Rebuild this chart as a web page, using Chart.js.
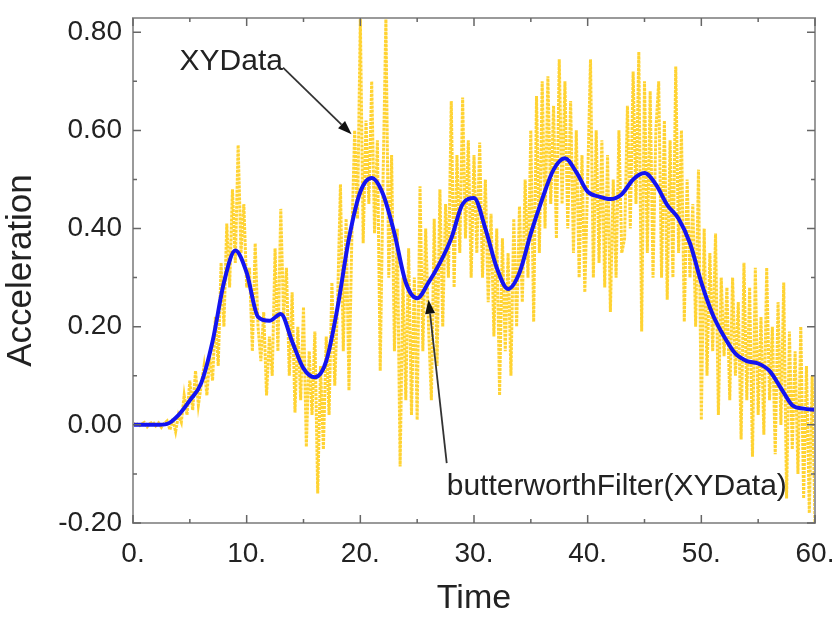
<!DOCTYPE html>
<html><head><meta charset="utf-8">
<script src="https://cdn.jsdelivr.net/npm/chart.js@4/dist/chart.umd.min.js"></script>
<style>html,body{margin:0;padding:0;background:#fff}</style>
</head><body>
<canvas id="c" width="835" height="619"></canvas>
<script>
// ---- data ----
const filterTime = [0,1,2,3,4,5,6,7,8,9,10,11,12,13,14,15,16,17,18,19,20,21,22,23,24,25,26,27,28,29,30,31,32,33,34,35,36,37,38,39,40,41,42,43,44,45,46,47,48,49,50,51,52,53,54,55,56,57,58,59,60];
const filterValues = [0,0,0,0.002,0.02,0.05,0.085,0.17,0.29,0.355,0.31,0.22,0.212,0.226,0.17,0.115,0.097,0.13,0.24,0.38,0.475,0.503,0.47,0.39,0.29,0.258,0.29,0.33,0.38,0.45,0.462,0.40,0.32,0.277,0.31,0.39,0.46,0.52,0.543,0.515,0.475,0.465,0.46,0.47,0.50,0.513,0.49,0.448,0.42,0.37,0.29,0.225,0.18,0.145,0.13,0.125,0.11,0.075,0.04,0.033,0.031];
const rawStep = 0.25;
const rawValues = [
0,0.004,-0.003,0.002,0.005,-0.004,0.003,0.006,-0.002,0.004,-0.005,0.003,0.008,
-0.01,0.012,-0.014,0.02,
0.005,0.06,0.02,0.09,
0.03,0.11,0.04,0.08,
0.12,0.06,0.14,0.09,
0.22,0.12,0.33,0.2,
0.41,0.28,0.48,0.33,
0.57,0.35,0.45,0.28,
0.32,0.15,0.37,0.2,
0.13,0.23,0.06,0.18,
0.1,0.36,0.15,0.44,
0.22,0.32,0.1,0.27,
0.025,0.2,0.05,0.24,
-0.045,0.15,0.02,0.19,
-0.14,0.12,-0.05,0.18,
0.02,0.29,0.08,0.25,
0.49,0.15,0.42,0.07,
0.38,0.6,0.42,0.83,
0.37,0.62,0.45,0.70,
0.39,0.58,0.11,0.5,
0.83,0.3,0.55,0.15,
0.4,-0.085,0.3,0.05,
0.36,0.02,0.3,0.01,
0.486,0.15,0.4,0.2,
0.05,0.42,0.12,0.48,
0.2,0.45,0.3,0.66,
0.28,0.55,0.35,0.667,
0.38,0.58,0.3,0.55,
0.35,0.575,0.3,0.5,
0.25,0.43,0.18,0.4,
0.06,0.38,0.15,0.35,
0.1,0.42,0.2,0.445,
0.25,0.5,0.3,0.6,
0.21,0.67,0.35,0.70,
0.4,0.71,0.45,0.65,
0.38,0.745,0.45,0.7,
0.4,0.66,0.35,0.6,
0.3,0.55,0.27,0.5,
0.745,0.3,0.6,0.33,
0.58,0.28,0.55,0.23,
0.5,0.3,0.6,0.35,
0.38,0.65,0.4,0.72,
0.45,0.76,0.19,0.7,
0.35,0.68,0.3,0.6,
0.7,0.3,0.62,0.255,
0.58,0.3,0.73,0.35,
0.6,0.21,0.5,0.3,
0.45,0.2,0.52,0.01,
0.4,0.1,0.35,0.15,
0.39,0.02,0.3,0.14,
0.28,0.05,0.3,0.1,
0.25,-0.03,0.33,0.05,
0.28,-0.065,0.32,0.02,
0.22,-0.02,0.32,0.05,
0.2,-0.06,0.25,0.0,
0.29,-0.15,0.19,-0.05,
0.15,-0.1,0.2,-0.15,
0.12,-0.18,0.1,-0.2
];
const xTickValues = [0,10,20,30,40,50,60];
const yTickValues = [-0.2,0,0.2,0.4,0.6,0.8];
const xMinorValues = [5,15,25,35,45,55];
const yMinorValues = [-0.1,0.1,0.3,0.5,0.7];
const xTitle = 'Time';
const yTitle = 'Acceleration';
const annotations = [
  {text:'XYData', tx:4.1, ty:0.724, from:[13.2,0.728], to:[19.23,0.592]},
  {text:'butterworthFilter(XYData)', tx:27.6, ty:-0.143, from:[27.6,-0.078], to:[26.0,0.255]}
];

// ---- chart ----
const FONT = "'Liberation Sans', Arial, Helvetica, sans-serif";
Chart.defaults.font.family = FONT;
const rawPoints = rawValues.map((v,i)=>({x:i*rawStep, y:v}));
const filterPoints = filterTime.map((t,i)=>({x:t, y:filterValues[i]}));

const framePlugin = {
  id:'frame',
  afterDatasetsDraw(chart){
    const ctx = chart.ctx, a = chart.chartArea;
    const xs = chart.scales.x, ys = chart.scales.y;
    ctx.save();
    ctx.strokeStyle = '#9a9a9a';
    ctx.lineWidth = 2;
    ctx.strokeRect(a.left, a.top, a.right-a.left, a.bottom-a.top);
    ctx.strokeStyle = '#666';
    ctx.lineWidth = 1.5;
    ctx.beginPath();
    const tx = (v,len)=>{const p=xs.getPixelForValue(v);
      ctx.moveTo(p,a.bottom);ctx.lineTo(p,a.bottom-len);
      ctx.moveTo(p,a.top);ctx.lineTo(p,a.top+len);};
    const ty = (v,len)=>{const p=ys.getPixelForValue(v);
      ctx.moveTo(a.left,p);ctx.lineTo(a.left+len,p);
      ctx.moveTo(a.right,p);ctx.lineTo(a.right-len,p);};
    xTickValues.forEach(v=>tx(v,8)); xMinorValues.forEach(v=>tx(v,4));
    yTickValues.forEach(v=>ty(v,8)); yMinorValues.forEach(v=>ty(v,4));
    ctx.stroke();
    // annotations
    ctx.font = "30px " + FONT;
    ctx.fillStyle = '#222';
    ctx.textBaseline = 'alphabetic';
    annotations.forEach(an=>{
      ctx.fillText(an.text, xs.getPixelForValue(an.tx), ys.getPixelForValue(an.ty));
      const x1=xs.getPixelForValue(an.from[0]), y1=ys.getPixelForValue(an.from[1]);
      const x2=xs.getPixelForValue(an.to[0]), y2=ys.getPixelForValue(an.to[1]);
      const ang=Math.atan2(y2-y1,x2-x1), L=14, W=5;
      ctx.strokeStyle='#333'; ctx.lineWidth=1.8;
      ctx.beginPath(); ctx.moveTo(x1,y1);
      ctx.lineTo(x2-L*Math.cos(ang), y2-L*Math.sin(ang)); ctx.stroke();
      ctx.fillStyle='#111';
      ctx.beginPath(); ctx.moveTo(x2,y2);
      ctx.lineTo(x2-L*Math.cos(ang)+W*Math.sin(ang), y2-L*Math.sin(ang)-W*Math.cos(ang));
      ctx.lineTo(x2-L*Math.cos(ang)-W*Math.sin(ang), y2-L*Math.sin(ang)+W*Math.cos(ang));
      ctx.closePath(); ctx.fill();
      ctx.fillStyle = '#222';
    });
    ctx.restore();
  }
};

new Chart(document.getElementById('c'), {
  type:'line',
  data:{datasets:[
    {label:'butterworthFilter(XYData)', data:filterPoints, borderColor:'#1414f0', borderWidth:4,
     pointRadius:0, cubicInterpolationMode:'monotone', fill:false},
    {label:'XYData', data:rawPoints, borderColor:'rgba(255,200,0,0.8)', borderWidth:3,
     borderDash:[3,1], pointRadius:0, tension:0, fill:false}
  ]},
  options:{
    responsive:false, animation:false, devicePixelRatio:1,
    layout:{padding:{left:0,right:20,top:18,bottom:0}},
    plugins:{legend:{display:false}, tooltip:{enabled:false}},
    scales:{
      x:{type:'linear', min:0, max:60,
        afterBuildTicks:s=>{s.ticks = xTickValues.map(v=>({value:v}));},
        afterFit:s=>{s.height=96; s.paddingLeft=0; s.paddingRight=0;},
        grid:{display:false, drawTicks:false}, border:{display:false},
        ticks:{font:{size:28}, color:'#222', padding:14, maxRotation:0, autoSkip:false,
          callback:v=>v+'.'},
        title:{display:true, text:xTitle, font:{size:34}, color:'#222', padding:0}},
      y:{type:'linear', min:-0.2, max:0.829,
        afterBuildTicks:s=>{s.ticks = yTickValues.map(v=>({value:v}));},
        afterFit:s=>{s.width=133; s.paddingTop=0; s.paddingBottom=0;},
        grid:{display:false, drawTicks:false}, border:{display:false},
        ticks:{font:{size:28}, color:'#222', padding:11, autoSkip:false,
          callback:v=>v.toFixed(2)},
        title:{display:true, text:yTitle, font:{size:35}, color:'#222', padding:0}}
    }
  },
  plugins:[framePlugin]
});
</script>
</body></html>
